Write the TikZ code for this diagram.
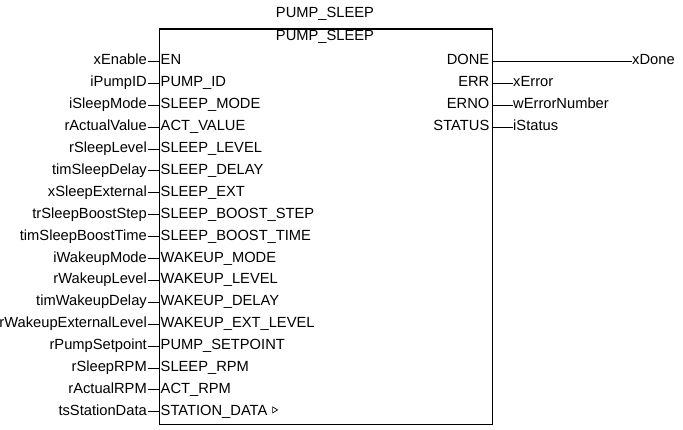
\documentclass[tikz,border=0pt]{standalone}
\usepackage{fontspec}
\setmainfont{Liberation Sans}
\begin{document}
\begin{tikzpicture}[x=1pt,y=-1pt,
  font=\fontsize{14.7}{17}\selectfont,
  lbl/.style={inner sep=0pt},
  wire/.style={line width=1pt},
  fbbox/.style={draw,line width=1.5pt,inner sep=0pt,minimum width=333pt,minimum height=395pt,anchor=north west}]
\useasboundingbox (0,0) rectangle (683,430);
\node[lbl] (title) at (325,14) {PUMP\_SLEEP};
\node[fbbox] (fb) at (158.5,28.5) {};
\node[lbl] (type) at (325,37) {PUMP\_SLEEP};
\foreach \a/\b [count=\i from 0] in {xEnable/EN, iPumpID/PUMP\_ID, iSleepMode/SLEEP\_MODE, rActualValue/ACT\_VALUE, rSleepLevel/SLEEP\_LEVEL, timSleepDelay/SLEEP\_DELAY, xSleepExternal/SLEEP\_EXT, trSleepBoostStep/SLEEP\_BOOST\_STEP, timSleepBoostTime/SLEEP\_BOOST\_TIME, iWakeupMode/WAKEUP\_MODE, rWakeupLevel/WAKEUP\_LEVEL, timWakeupDelay/WAKEUP\_DELAY, rWakeupExternalLevel/WAKEUP\_EXT\_LEVEL, rPumpSetpoint/PUMP\_SETPOINT, rSleepRPM/SLEEP\_RPM, rActualRPM/ACT\_RPM, tsStationData/STATION\_DATA}{
  \pgfmathsetmacro\yy{59.5+21.9*\i}
  \node[lbl,anchor=base east] (vin\i) at (147,\yy+5.5) {\a};
  \node[lbl,anchor=base west] (pin\i) at (160.5,\yy+5.5) {\b};
  \coordinate (win\i) at (147.5,\yy+2);
  \draw[wire] (win\i) -- (win\i -| fb.west);
}
\draw[line width=0.7pt] ([xshift=5pt,yshift=8.5pt]pin16.base east) -- ++(5pt,-3pt) -- ++(-5pt,-3pt) -- cycle;
\foreach \a/\b/\xe [count=\i from 0] in {DONE/xDone/632, ERR/xError/513, ERNO/wErrorNumber/513, STATUS/iStatus/513}{
  \pgfmathsetmacro\yy{59.5+21.9*\i}
  \node[lbl,anchor=base east] (pout\i) at (489.5,\yy+5.5) {\a};
  \node[lbl,anchor=base west] (vout\i) at (\xe,\yy+5.5) {\b};
  \coordinate (wout\i) at (\xe,\yy+2);
  \draw[wire] (wout\i -| fb.east) -- (wout\i);
}
\end{tikzpicture}
\end{document}
